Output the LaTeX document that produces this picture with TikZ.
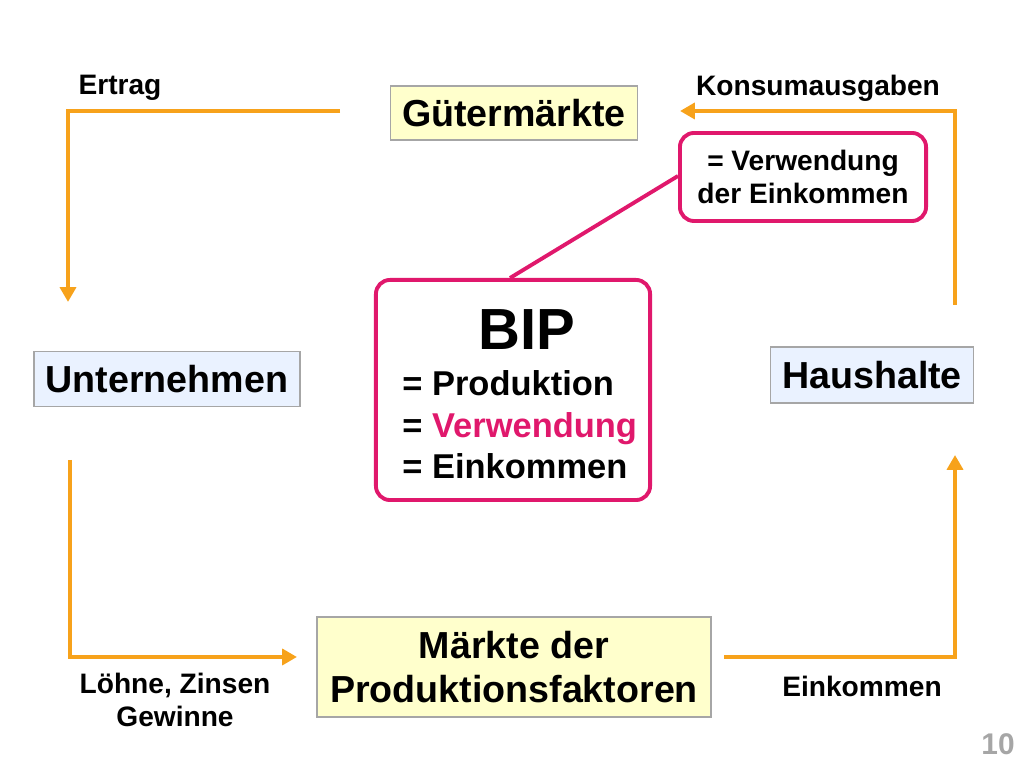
\documentclass[tikz,border=0pt]{standalone}
\usepackage{fontspec}
\setmainfont{Liberation Sans}
\usetikzlibrary{arrows.meta}
\definecolor{flow}{HTML}{F7A21B}
\definecolor{bipred}{HTML}{E0186C}
\definecolor{paleyellow}{HTML}{FFFFCC}
\definecolor{paleblue}{HTML}{EAF2FF}
\tikzset{
  market/.style={draw=gray!70, fill=paleyellow, font=\bfseries\fontsize{10.7}{12.5}\selectfont, align=center},
  sector/.style={draw=gray!70, fill=paleblue, font=\bfseries\fontsize{10.7}{12.5}\selectfont},
  flowarrow/.style={draw=flow, line width=1.1pt, -{Triangle[length=4.2pt,width=4.5pt]}},
  flowlabel/.style={font=\bfseries\fontsize{8}{9.5}\selectfont, align=center},
  bipbox/.style={draw=bipred, line width=1.1pt, rounded corners=4pt}
}
\begin{document}
\begin{tikzpicture}[x=0.01cm,y=-0.01cm]
  \useasboundingbox (0,0) rectangle (1024,768);
  % Markets and sectors
  \node[market, minimum width=2.42cm, minimum height=0.54cm] (gm) at (514,113) {Gütermärkte};
  \node[market, minimum width=3.94cm, minimum height=1cm] (pm) at (514,667) {Märkte der\\ Produktionsfaktoren};
  \node[sector, minimum width=2.6cm, minimum height=0.55cm] (un) at (167,379) {Unternehmen};
  \node[sector, minimum width=1.98cm, minimum height=0.56cm] (hh) at (872,375) {Haushalte};

  % BIP boxes
  \node[bipbox, minimum width=2.74cm, minimum height=2.2cm] (bip) at (513,390) {};
  \node[font=\bfseries\fontsize{16.5}{19}\selectfont] (biptitle) at (527,330) {BIP};
  \node[anchor=west, font=\bfseries\fontsize{9.8}{11.8}\selectfont, align=left] (biptext) at (390,425)
    {= Produktion\\ = \textcolor{bipred}{Verwendung}\\ = Einkommen};
  \node[bipbox, minimum width=2.46cm, minimum height=0.88cm, font=\bfseries\fontsize{8}{9.3}\selectfont, align=center] (verw) at (803,177)
    {= Verwendung\\ der Einkommen};
  \draw[bipred, line width=1.1pt] (510,278) -- (verw.west |- 0,176);

  % Flows
  \coordinate (tl) at (68,111);
  \coordinate (tr) at (955,111);
  \coordinate (bl) at (70,657);
  \coordinate (br) at (955,657);
  \draw[flowarrow] (340,111) -- (tl) -- (68,302);
  \draw[flowarrow] (955,305) -- (tr) -- (680,111);
  \draw[flowarrow] (70,460) -- (bl) -- (297,657);
  \draw[flowarrow] (724,657) -- (br) -- (955,455);

  % Labels
  \node[flowlabel] (ertrag) at (120,88) {Ertrag};
  \node[flowlabel] (konsum) at (818,88) {Konsumausgaben};
  \node[flowlabel] (loehne) at (175,700) {Löhne, Zinsen\\ Gewinne};
  \node[flowlabel] (eink) at (862,686) {Einkommen};
  \node[font=\bfseries\fontsize{8.5}{10}\selectfont, text=gray!70] (page) at (998,744) {10};
\end{tikzpicture}
\end{document}
